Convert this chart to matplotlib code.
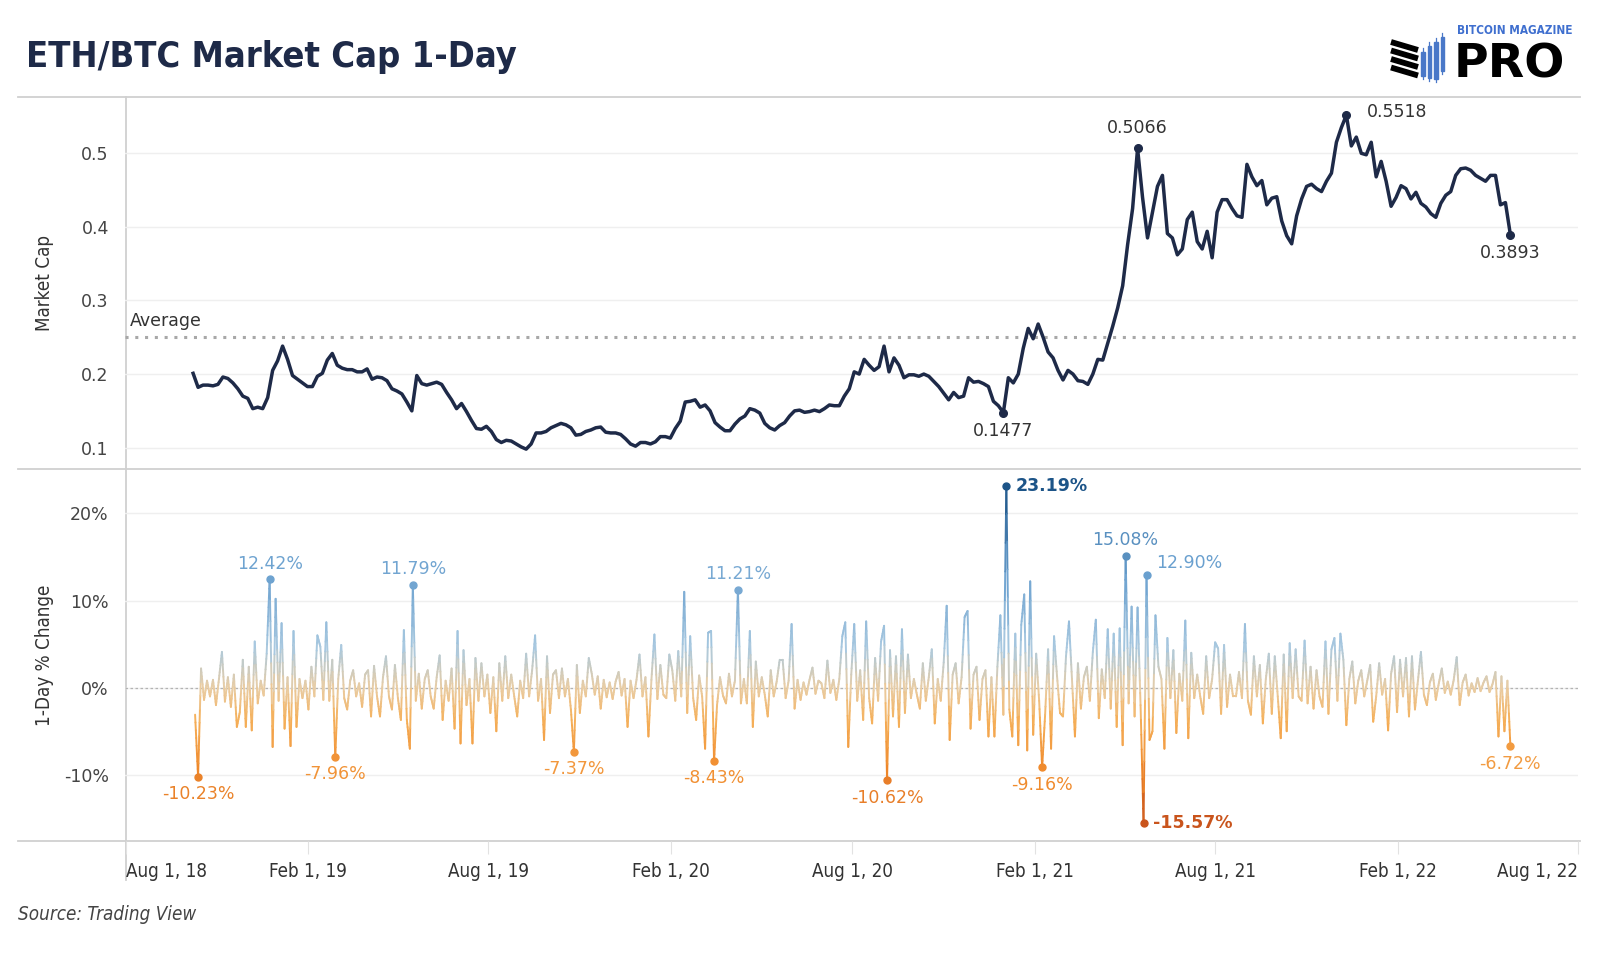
import numpy as np
import pandas as pd
import matplotlib
matplotlib.use("Agg")
import matplotlib.pyplot as plt
import matplotlib.dates as mdates
from matplotlib import font_manager
from matplotlib.collections import LineCollection
from matplotlib.colors import LinearSegmentedColormap, TwoSlopeNorm
from matplotlib.patches import Rectangle

# ---------------- data ----------------
cap_start = "2018-10-08"   # first daily close shown, sampled every 5 days
cap_step = "5D"
market_cap = [
    0.201, 0.182, 0.185, 0.185, 0.184, 0.186, 0.196, 0.194, 0.188, 0.180,
    0.170, 0.167, 0.153, 0.155, 0.153, 0.168, 0.205, 0.218, 0.238, 0.220,
    0.198, 0.193, 0.188, 0.183, 0.183, 0.197, 0.201, 0.219, 0.228, 0.212,
    0.208, 0.206, 0.206, 0.203, 0.203, 0.207, 0.193, 0.196, 0.195, 0.191,
    0.180, 0.177, 0.173, 0.162, 0.150, 0.198, 0.187, 0.185, 0.187, 0.189,
    0.186, 0.175, 0.165, 0.153, 0.160, 0.149, 0.137, 0.126, 0.125, 0.129,
    0.122, 0.111, 0.107, 0.110, 0.109, 0.105, 0.101, 0.098, 0.105, 0.120,
    0.120, 0.122, 0.127, 0.130, 0.133, 0.131, 0.127, 0.117, 0.118, 0.122,
    0.124, 0.127, 0.128, 0.121, 0.120, 0.120, 0.118, 0.112, 0.105, 0.102,
    0.107, 0.107, 0.105, 0.108, 0.115, 0.115, 0.113, 0.126, 0.136, 0.162,
    0.163, 0.165, 0.155, 0.158, 0.150, 0.134, 0.128, 0.123, 0.123, 0.132,
    0.139, 0.143, 0.153, 0.151, 0.147, 0.133, 0.127, 0.124, 0.130, 0.134,
    0.143, 0.150, 0.151, 0.148, 0.149, 0.151, 0.149, 0.153, 0.158, 0.157,
    0.157, 0.170, 0.180, 0.203, 0.200, 0.220, 0.212, 0.205, 0.210, 0.238,
    0.203, 0.222, 0.212, 0.195, 0.199, 0.199, 0.197, 0.200, 0.197, 0.190,
    0.183, 0.174, 0.165, 0.175, 0.168, 0.170, 0.195, 0.189, 0.190, 0.187,
    0.183, 0.163, 0.157, 0.1477, 0.195, 0.188, 0.200, 0.235, 0.262, 0.248,
    0.268, 0.250, 0.230, 0.222, 0.205, 0.192, 0.205, 0.200, 0.191, 0.190,
    0.186, 0.200, 0.220, 0.219, 0.242, 0.265, 0.290, 0.320, 0.376, 0.425,
    0.5066, 0.440, 0.385, 0.420, 0.455, 0.470, 0.391, 0.385, 0.362, 0.370,
    0.410, 0.420, 0.380, 0.370, 0.394, 0.358, 0.420, 0.437, 0.437, 0.425,
    0.415, 0.413, 0.485, 0.468, 0.456, 0.463, 0.430, 0.439, 0.441, 0.408,
    0.388, 0.377, 0.415, 0.438, 0.455, 0.458, 0.452, 0.448, 0.462, 0.473,
    0.515, 0.535, 0.5518, 0.510, 0.522, 0.500, 0.498, 0.515, 0.468, 0.489,
    0.462, 0.428, 0.440, 0.456, 0.452, 0.438, 0.447, 0.432, 0.427, 0.418,
    0.413, 0.432, 0.443, 0.448, 0.470, 0.479, 0.480, 0.477, 0.470, 0.466,
    0.462, 0.470, 0.470, 0.430, 0.433, 0.3893,
]
cap_average = 0.25
cap_labels = [0.5066, 0.5518, 0.1477, 0.3893]

chg_start = "2018-10-10"   # 1-day % change, sampled every 3 days
chg_step = "3D"
pct_change = [
    -3.1, -10.23, 2.2, -1.4, 0.8, -1.0, 0.9, -2.0, 1.0, 4.1,
    -1.6, 1.2, -2.2, 1.5, -4.5, -2.8, 3.2, -4.5, 2.4, -4.9,
    5.3, -1.8, 0.8, -0.9, 3.9, 12.42, -6.8, 10.2, -1.5, 7.4,
    -4.7, 1.2, -6.7, 6.5, -4.5, 1.0, -1.2, 0.8, -2.5, 2.4,
    -1.0, 6.0, 4.7, -1.4, 7.5, -1.5, 3.2, -7.96, 1.0, 4.9,
    -1.2, -2.5, 0.8, 2.0, -1.0, 0.5, -2.2, 1.5, 2.0, -3.3,
    2.5, -1.0, -3.3, 1.2, 3.6, -1.0, -2.5, 2.6, -1.2, -3.7,
    6.6, -3.7, -7.0, 11.79, -1.5, 1.6, -2.4, 1.0, 2.0, -1.0,
    -2.4, 1.2, 3.7, -3.7, 0.8, -1.5, 2.2, -4.7, 6.5, -6.4,
    4.3, -2.0, 1.0, -6.4, 3.4, -1.5, 2.8, -1.0, 1.5, -2.9,
    1.2, -5.0, 2.8, -1.5, 3.6, -1.2, 1.5, -1.0, -3.3, 0.8,
    -1.2, 3.9, -1.0, 2.0, 6.0, -1.5, 1.0, -6.0, 3.6, -2.9,
    1.5, 2.0, -1.2, 2.2, -1.0, 1.0, -2.5, -7.37, 2.6, -2.9,
    0.8, -1.0, 3.4, 1.6, -0.8, 1.3, -2.4, 0.9, -1.1, 0.6,
    -1.3, 0.7, 1.8, -0.9, 1.0, -4.5, 0.8, -1.2, 0.9, 3.8,
    -1.0, 1.2, -5.6, 0.9, 6.1, -1.3, 2.6, -0.8, -1.2, 3.8,
    2.0, -1.5, 4.2, -1.0, 11.0, -2.9, 5.9, -1.2, -3.7, 1.4,
    -1.0, -7.0, 6.3, 6.5, -8.43, -2.0, 1.2, -0.9, -1.8, 1.6,
    -1.0, 0.8, 11.21, -1.8, 1.0, -1.8, 6.5, -4.5, 3.0, -1.0,
    1.2, -0.8, -3.3, 2.0, -1.0, 0.7, 3.2, 3.2, -1.2, 0.8,
    7.3, -2.4, 0.9, -1.4, 0.6, -0.8, 0.9, 2.3, -0.7, 0.8,
    0.5, -1.2, 3.1, -0.6, 0.9, -1.4, 1.0, 5.9, 7.5, -6.8,
    1.5, 7.3, -1.5, 2.0, -3.7, 7.6, -1.2, -4.1, 3.4, -1.5,
    5.3, 7.1, -10.62, 4.3, -3.3, 3.6, -4.5, 6.7, -2.9, 3.8,
    -1.2, 1.0, -0.8, -2.4, 2.8, -1.5, 1.2, 4.4, -4.1, 1.0,
    -1.5, 2.9, 9.4, -6.0, 1.5, 2.8, -1.8, 1.2, 8.1, 8.8,
    -4.7, 1.5, 2.4, -3.7, 1.0, 2.0, -5.6, 1.2, -5.6, 2.4,
    8.3, -3.1, 23.19, -2.5, -5.6, 6.2, -6.6, 7.2, 10.7, -7.2,
    12.2, -5.4, 3.9, -1.5, -9.16, -3.1, 4.4, -7.0, 5.9, 1.3,
    -2.9, -3.3, 3.6, 7.6, 1.0, -5.6, 2.8, -2.4, 1.2, 2.4,
    -1.5, 4.1, 7.8, -3.5, 2.1, -1.2, 6.7, -2.4, 6.2, -4.5,
    6.8, -6.6, 15.08, -1.8, 9.3, -3.3, 9.2, -2.0, -15.57, 12.90,
    -6.0, -5.0, 8.3, 2.4, 1.0, -7.0, 5.7, -1.2, 4.3, -5.2,
    1.6, -1.5, 7.7, -5.8, 4.0, -1.2, 1.5, -1.0, -3.0, 3.6,
    -1.2, 1.0, 5.2, 4.5, -3.0, 4.9, -2.2, 1.5, -1.0, -1.0,
    1.8, -1.2, 7.3, -1.5, -3.1, 3.6, -1.0, 2.6, -4.1, 1.0,
    3.9, -3.0, 3.6, -1.0, -5.8, 3.8, -5.0, 5.1, -1.2, 4.4,
    -1.0, -1.5, 5.4, -1.8, 2.4, -2.4, 2.0, -1.0, -2.2, 5.3,
    -3.0, 4.4, 5.7, -1.5, 6.2, 3.2, -4.3, 1.0, 3.0, -1.8,
    0.8, 2.0, -1.0, 0.8, 2.6, -3.9, -1.0, 2.8, -0.8, 1.0,
    -4.9, 1.6, 3.6, -2.8, 3.2, -1.0, 3.4, -3.3, 3.6, -2.5,
    0.8, 4.1, -0.8, -2.0, 0.6, 1.6, -1.4, 0.5, 2.2, -0.6,
    0.7, -0.8, 0.9, 3.5, -2.0, 0.6, 1.5, -0.9, 0.5, -0.5,
    1.1, -0.4, 0.6, 1.3, -0.5, 0.4, 1.8, -5.6, 1.3, -5.0,
    0.8, -6.72,
]
# label position for each annotated change
chg_labels = {
    -10.23: "below", 12.42: "above", -7.96: "below", 11.79: "above",
    -7.37: "below", -8.43: "below", 11.21: "above", -10.62: "below",
    23.19: "right", -9.16: "below", 15.08: "above", -15.57: "right",
    12.90: "upright", -6.72: "below",
}

tick_dates = ["2018-08-01", "2019-02-01", "2019-08-01", "2020-02-01", "2020-08-01",
              "2021-02-01", "2021-08-01", "2022-02-01", "2022-08-01"]
tick_text = ["Aug 1, 18", "Feb 1, 19", "Aug 1, 19", "Feb 1, 20", "Aug 1, 20",
             "Feb 1, 21", "Aug 1, 21", "Feb 1, 22", "Aug 1, 22"]

# ---------------- fonts / colours ----------------
names = {f.name for f in font_manager.fontManager.ttflist}
if "Liberation Sans Narrow" in names:
    NARROW = dict(family="Liberation Sans Narrow")
else:
    NARROW = dict(family="DejaVu Sans", stretch="condensed")
plt.rcParams["font.family"] = ["DejaVu Sans"]

NAVY = "#1e2a48"
TXT = "#333333"
BORDER = "#d0d0d0"
cmap = LinearSegmentedColormap.from_list("ob", [
    (0.0, "#c9541c"), (0.2, "#f08a2c"), (0.38, "#f5b05a"), (0.5, "#e9cda5"),
    (0.6, "#a9c9e0"), (0.78, "#6aa0cf"), (1.0, "#1c5488")])
norm = TwoSlopeNorm(vmin=min(pct_change), vcenter=0, vmax=max(pct_change))

W, H = 1600, 960
fig = plt.figure(figsize=(16, 9.6), dpi=100)
fig.patch.set_facecolor("white")

# overlay in pixel coordinates for frame lines and the logo
ov = fig.add_axes([0, 0, 1, 1], zorder=0)
ov.set_xlim(0, W)
ov.set_ylim(H, 0)
ov.axis("off")

PL, PR = 125.5, 1578
TOP, MID, BOT = 97, 469, 841


def px_rect(l, t, r, b):
    return [l / W, 1 - b / H, (r - l) / W, (b - t) / H]


ax1 = fig.add_axes(px_rect(PL, TOP, PR, MID), zorder=2)
ax2 = fig.add_axes(px_rect(PL, MID, PR, BOT), zorder=2, sharex=ax1)
for ax in (ax1, ax2):
    ax.patch.set_alpha(0)
    for s in ax.spines.values():
        s.set_visible(False)
    ax.tick_params(axis="y", length=0, pad=12, labelsize=12.5, labelcolor="#444444")

for y in (TOP, MID, BOT):
    ov.plot([18, 1580], [y, y], color=BORDER, lw=1.3)
ov.plot([PL, PL], [TOP, 880], color=BORDER, lw=1.3)

# ---------------- top panel ----------------
cap_dates = pd.date_range(cap_start, periods=len(market_cap), freq=cap_step)
cap = np.array(market_cap)
xlim = (pd.Timestamp("2018-08-01"), pd.Timestamp("2022-08-01"))
ax1.set_xlim(*xlim)
ax1.set_ylim(0.071, 0.5765)
ax1.set_yticks([0.1, 0.2, 0.3, 0.4, 0.5])
ax1.set_yticklabels(["0.1", "0.2", "0.3", "0.4", "0.5"])
ax1.grid(axis="y", color="#efefef", lw=1)
ax1.set_axisbelow(True)
ax1.axhline(cap_average, color="#a8a8a8", lw=2.2, ls=(0, (1, 2.2)), zorder=1)
ax1.annotate("Average", xy=(0.003, cap_average), xycoords=("axes fraction", "data"),
             xytext=(0, 5), textcoords="offset points", ha="left", va="bottom",
             fontsize=12.5, color=TXT)
ax1.plot(cap_dates, cap, color=NAVY, lw=2.5, solid_joinstyle="round", zorder=3)

cap_offsets = {0.5066: ((0, 8), "center", "bottom"),
               0.5518: ((15, 2), "left", "center"),
               0.1477: ((0, -7), "center", "top"),
               0.3893: ((0, -7), "center", "top")}
for v in cap_labels:
    i = int(np.argmin(np.abs(cap - v)))
    ax1.plot(cap_dates[i], cap[i], "o", color=NAVY, ms=5.5, zorder=4)
    off, ha, va = cap_offsets[v]
    ax1.annotate(f"{v:.4f}", xy=(cap_dates[i], cap[i]), xytext=off,
                 textcoords="offset points", ha=ha, va=va, fontsize=12.5, color=TXT)
plt.setp(ax1.get_xticklabels(), visible=False)
ax1.tick_params(axis="x", length=0)

# ---------------- bottom panel ----------------
chg_dates = pd.date_range(chg_start, periods=len(pct_change), freq=chg_step)
chg = np.array(pct_change)
xn = mdates.date2num(chg_dates)
segs, cols = [], []
nsub = 8
for i in range(len(chg) - 1):
    fx = np.linspace(xn[i], xn[i + 1], nsub + 1)
    fy = np.linspace(chg[i], chg[i + 1], nsub + 1)
    for k in range(nsub):
        segs.append([(fx[k], fy[k]), (fx[k + 1], fy[k + 1])])
        cols.append(0.5 * (fy[k] + fy[k + 1]))
lc = LineCollection(segs, cmap=cmap, norm=norm, linewidths=1.4, capstyle="round", zorder=3)
lc.set_array(np.array(cols))
ax2.add_collection(lc)
ax2.set_ylim(-17.6, 25.1)
ax2.set_yticks([-10, 0, 10, 20])
ax2.set_yticklabels(["-10%", "0%", "10%", "20%"])
ax2.grid(axis="y", color="#efefef", lw=1)
ax2.set_axisbelow(True)
ax2.axhline(0, color="#b3b3b3", lw=0.9, ls=(0, (2, 2)), zorder=2)

for v, where in chg_labels.items():
    i = int(np.argmin(np.abs(chg - v)))
    c = cmap(norm(chg[i]))
    ax2.plot(chg_dates[i], chg[i], "o", color=c, ms=5, zorder=4)
    if where == "below":
        off, ha, va = (0, -6), "center", "top"
    elif where == "above":
        off, ha, va = (0, 5), "center", "bottom"
    elif where == "right":
        off, ha, va = (7, 0), "left", "center"
    else:
        off, ha, va = (7, 9), "left", "center"
    ax2.annotate(f"{v:.2f}%", xy=(chg_dates[i], chg[i]), xytext=off,
                 textcoords="offset points", ha=ha, va=va, fontsize=12.5, color=c,
                 fontweight="semibold" if abs(v) > 15.5 else "normal")

ax2.set_xticks(pd.to_datetime(tick_dates))
ax2.set_xticklabels(tick_text, fontsize=13.5, color=TXT, **NARROW)
ax2.tick_params(axis="x", length=9, color="#e2e2e2", pad=6)
labs = ax2.get_xticklabels()
labs[0].set_ha("left")
labs[-1].set_ha("right")

# ---------------- texts ----------------
fig.text(26 / W, 1 - 57 / H, "ETH/BTC Market Cap 1-Day", ha="left", va="center",
         fontsize=26, fontweight="bold", color=NAVY, **NARROW)
fig.text(45 / W, 1 - 283 / H, "Market Cap", rotation=90, ha="center", va="center",
         fontsize=13.5, color=TXT, **NARROW)
fig.text(45 / W, 1 - 655 / H, "1-Day % Change", rotation=90, ha="center", va="center",
         fontsize=13.5, color=TXT, **NARROW)
fig.text(18 / W, 1 - 914 / H, "Source: Trading View", ha="left", va="center",
         fontsize=13.5, style="italic", color="#444444", **NARROW)

# ---------------- logo ----------------
for k in range(4):
    y0 = 42 + k * 8.5
    ov.plot([1391, 1418], [y0, y0 + 8], color="black", lw=4.2, solid_capstyle="butt")
bar_specs = [(1421, 52, 76), (1427.5, 46, 78), (1434, 42, 79), (1440.5, 37, 71)]
for bx, bt, bb in bar_specs:
    ov.plot([bx + 1.8, bx + 1.8], [bt - 4, bb + 3], color="#4a78c8", lw=0.9)
    ov.add_patch(Rectangle((bx, bt), 3.8, bb - bt, color="#4a78c8"))
ov.text(1457, 30, "BITCOIN MAGAZINE", ha="left", va="center", fontsize=8.5,
        fontweight="bold", color="#3f6fcf", **NARROW)
ov.text(1454, 78, "PRO", ha="left", va="baseline", fontsize=34, fontweight="heavy",
        color="black", family="DejaVu Sans")

fig.savefig("out.png", dpi=100, facecolor="white")
